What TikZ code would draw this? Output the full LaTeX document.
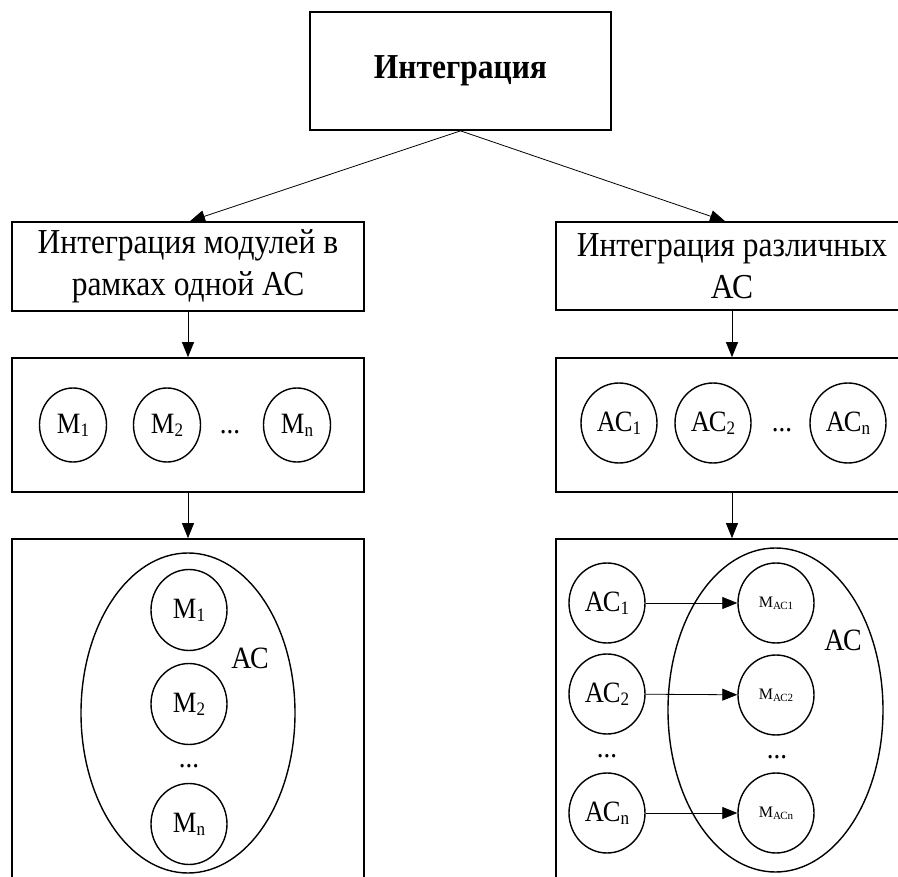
\documentclass[tikz,border=0pt]{standalone}
\usepackage{fontspec}
\setmainfont{Liberation Serif}[FakeStretch=0.9]
\newfontfamily\plainserif{Liberation Serif}
\usetikzlibrary{arrows.meta,shapes.geometric}

% lowered index for the circle labels
\newcommand{\idx}[1]{\raisebox{-3pt}{\fontsize{19}{19}\selectfont #1}}
% small index used inside the module circles of the right block
\newcommand{\lowsub}[1]{\raisebox{-2pt}{\fontsize{11}{11}\selectfont #1}}

\begin{document}
\begin{tikzpicture}[x=1pt,y=-1pt,
  box/.style={draw, rectangle, line width=1.7pt, inner sep=0pt},
  boxtext/.style={align=center, font=\fontsize{35}{42}\selectfont},
  unit/.style={draw, ellipse, line width=1.4pt, inner sep=0pt,
               font=\fontsize{29.5}{29.5}\selectfont},
  rowunit/.style={unit, minimum width=67pt, minimum height=74pt},
  sysunit/.style={unit, minimum width=76pt, minimum height=80pt},
  inunit/.style={unit, minimum width=76pt, minimum height=81pt},
  tinyunit/.style={sysunit, font=\plainserif\fontsize{16}{16}\selectfont},
  shell/.style={draw, ellipse, line width=1.4pt, inner sep=0pt},
  dots/.style={anchor=base, inner sep=0pt, font=\fontsize{30}{30}\selectfont},
  biglabel/.style={inner sep=0pt, font=\fontsize{31}{31}\selectfont},
  link/.style={line width=0.8pt, -{Triangle[length=15pt,width=12pt]}}
]
\clip (0,0) rectangle (898,877);

% top level
\node[box, minimum width=301pt, minimum height=118pt,
      font=\bfseries\fontsize{35}{42}\selectfont] (top) at (460.5,71) {Интеграция};

% second level
\node[box, boxtext, minimum width=352pt, minimum height=89pt] (mod) at (188,266.5)
  {Интеграция модулей в\\рамках одной АС};
\node[box, boxtext, minimum width=352pt, minimum height=88pt] (sys) at (732,266)
  {Интеграция различных\\АС};

% rows of elements
\node[box, minimum width=352pt, minimum height=134pt] (modrow) at (188,425) {};
\node[box, minimum width=352pt, minimum height=134pt] (sysrow) at (732,425) {};

% inner structure blocks
\node[box, minimum width=352pt, minimum height=360pt] (modin) at (188,719) {};
\node[box, minimum width=352pt, minimum height=360pt] (sysin) at (732,719) {};

% connectors between levels
\draw[link] (top.south) -- ([xshift=2pt]mod.north);
\draw[link] (top.south) -- ([xshift=-7pt]sys.north);
\draw[link] (mod.south) -- (modrow.north);
\draw[link] (sys.south) -- (sysrow.north);
\draw[link] (modrow.south) -- (modin.north);
\draw[link] (sysrow.south) -- (sysin.north);

% modules in a row
\node[rowunit] (m1) at (73,425) {M\idx{1}};
\node[rowunit] (m2) at (167,425) {M\idx{2}};
\node[dots] (mdots) at (230,434) {...};
\node[rowunit] (mn) at (297,425) {M\idx{n}};

% systems in a row
\node[sysunit] (a1) at (619,423) {АС\idx{1}};
\node[sysunit] (a2) at (713,423) {АС\idx{2}};
\node[dots] (adots) at (782,432) {...};
\node[sysunit] (an) at (848,423) {АС\idx{n}};

% modules inside one system
\node[shell, minimum width=214pt, minimum height=320pt] (modshell) at (188,713) {};
\node[inunit] (im1) at (189,610) {M\idx{1}};
\node[inunit] (im2) at (189,704) {M\idx{2}};
\node[dots] (imdots) at (189,767) {...};
\node[inunit] (imn) at (189,824) {M\idx{n}};
\node[biglabel] (modlabel) at (250,658) {АС};

% different systems mapped onto modules of one system
\node[shell, minimum width=215pt, minimum height=324pt] (sysshell) at (775.5,710) {};
\node[sysunit] (s1) at (607,603) {АС\idx{1}};
\node[sysunit] (s2) at (607,694) {АС\idx{2}};
\node[dots] (sdots) at (607,757) {...};
\node[sysunit] (sn) at (607,813) {АС\idx{n}};
\node[tinyunit] (t1) at (776,603) {M\lowsub{АС1}};
\node[tinyunit] (t2) at (776,695) {M\lowsub{АС2}};
\node[dots] (tdots) at (777,758) {...};
\node[tinyunit] (tn) at (776,813) {M\lowsub{АСn}};
\node[biglabel] (syslabel) at (843,640) {АС};

\draw[link] (s1) -- (t1);
\draw[link] (s2) -- (t2);
\draw[link] (sn) -- (tn);
\end{tikzpicture}
\end{document}
